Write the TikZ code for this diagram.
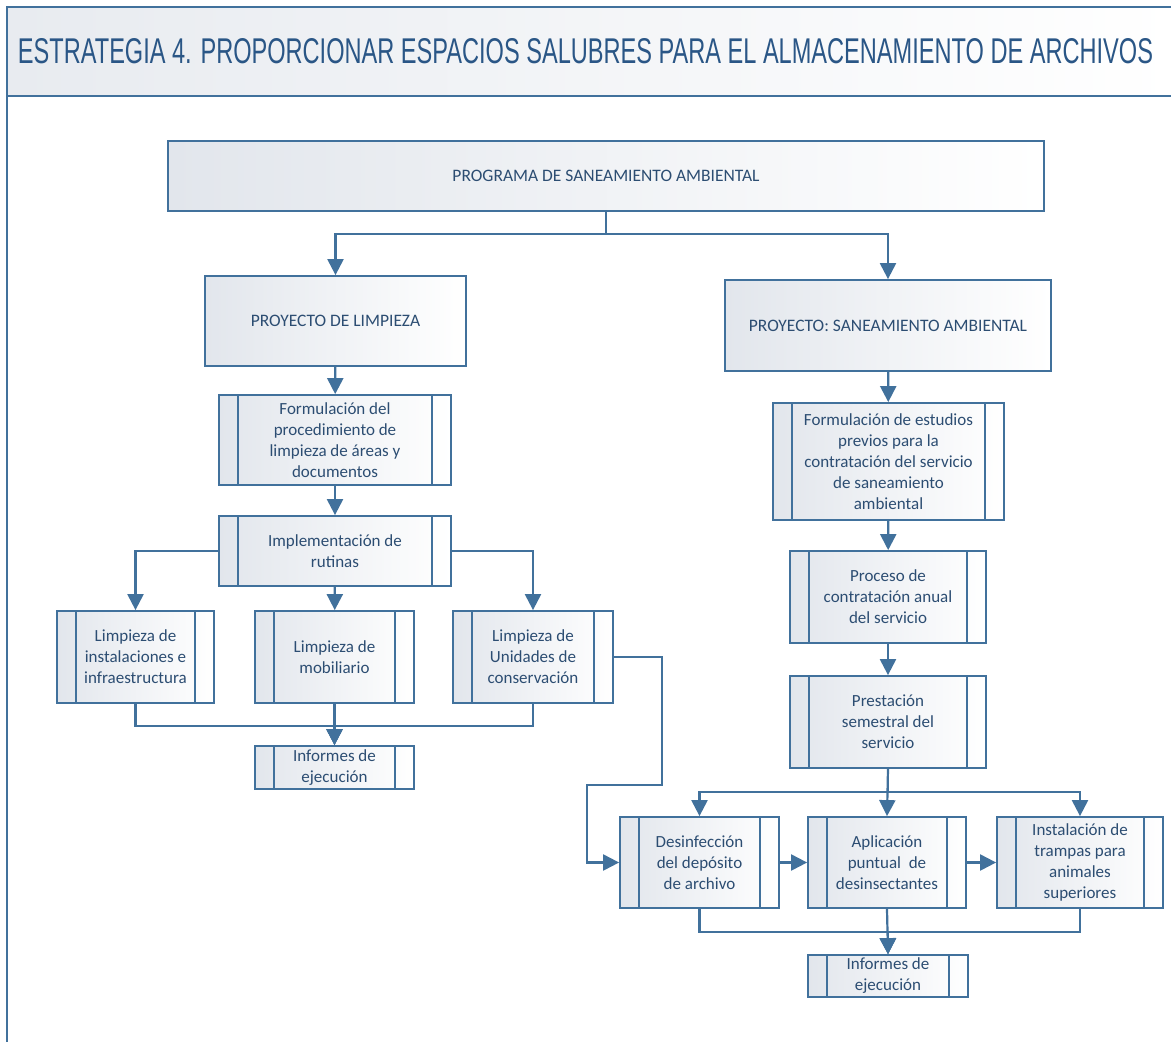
\documentclass[tikz,border=0pt]{standalone}
\usepackage{fontspec}
\setmainfont{Carlito}
\newfontfamily\titlefont{Liberation Sans}
\usepackage{graphicx}
\usetikzlibrary{arrows.meta}
\definecolor{lineblue}{HTML}{41719C}
\definecolor{textblue}{HTML}{2C4D72}
\definecolor{titleblue}{HTML}{2A5686}
\definecolor{shadegray}{HTML}{E2E6EC}

\begin{document}
\begin{tikzpicture}[x=1pt,y=-1pt,
  every node/.style={font=\fontsize{17}{21}\selectfont,text=textblue,align=center},
  box/.style={draw=lineblue,line width=1.8pt,left color=shadegray,right color=white,inner sep=1pt},
  subbox/.style={box,path picture={
    \draw[lineblue,line width=2.6pt] ([xshift=19pt]path picture bounding box.north west) -- ([xshift=19pt]path picture bounding box.south west);
    \draw[lineblue,line width=2.6pt] ([xshift=-19pt]path picture bounding box.north east) -- ([xshift=-19pt]path picture bounding box.south east);}},
  link/.style={draw=lineblue,line width=2.2pt},
  arr/.style={link,-{Triangle[length=16pt,width=16pt]}}]
  \useasboundingbox (0,0) rectangle (1171,1042);
  \fill[white] (0,0) rectangle (1171,1042);
  \shade[left color=shadegray!80,right color=white] (7,7) rectangle (1180,96);
  \draw[link] (1180,7) -- (7,7) -- (7,1050);
  \draw[link] (7,96) -- (1180,96);
  \node[text=titleblue] (title) at (585.5,51) {\resizebox{1135pt}{25pt}{\titlefont\fontsize{36}{36}\selectfont ESTRATEGIA 4. PROPORCIONAR ESPACIOS SALUBRES PARA EL ALMACENAMIENTO DE ARCHIVOS}};

  \node[box,minimum width=876pt,minimum height=70pt,font=\fontsize{17.5}{21}\selectfont] (prog) at (606,176) {PROGRAMA DE SANEAMIENTO AMBIENTAL};
  \node[box,minimum width=261pt,minimum height=90pt,font=\fontsize{17.5}{21}\selectfont] (plimp) at (335.5,321) {PROYECTO DE LIMPIEZA};
  \node[box,minimum width=326pt,minimum height=91pt,font=\fontsize{17.5}{21}\selectfont] (psan) at (888,325.5) {PROYECTO: SANEAMIENTO AMBIENTAL};

  \node[subbox,minimum width=232pt,minimum height=90pt] (form) at (335,440) {Formulación del\\procedimiento de\\limpieza de áreas y\\documentos};
  \node[subbox,minimum width=232pt,minimum height=70pt] (impl) at (335,551) {Implementación de\\rutinas};
  \node[subbox,minimum width=157pt,minimum height=92pt] (linst) at (135.5,657) {Limpieza de\\instalaciones e\\infraestructura};
  \node[subbox,minimum width=159pt,minimum height=92pt] (lmob) at (334.5,657) {Limpieza de\\mobiliario};
  \node[subbox,minimum width=160pt,minimum height=92pt] (lund) at (533,657) {Limpieza de\\Unidades de\\conservación};
  \node[subbox,minimum width=159pt,minimum height=43pt,inner sep=0pt] (infa) at (334.5,767.5) {Informes de\\ejecución};

  \node[subbox,minimum width=231pt,minimum height=117pt] (estud) at (888.5,461.5) {Formulación de estudios\\previos para la\\contratación del servicio\\de saneamiento\\ambiental};
  \node[subbox,minimum width=196pt,minimum height=92pt] (contr) at (888,597) {Proceso de\\contratación anual\\del servicio};
  \node[subbox,minimum width=196pt,minimum height=92pt] (prest) at (888,722) {Prestación\\semestral del\\servicio};
  \node[subbox,minimum width=159pt,minimum height=91pt] (desin) at (699.5,862.5) {Desinfección\\del depósito\\de archivo};
  \node[subbox,minimum width=158pt,minimum height=91pt] (aplic) at (887,862.5) {Aplicación\\puntual~ de\\desinsectantes};
  \node[subbox,minimum width=166pt,minimum height=91pt] (tramp) at (1080,862.5) {Instalación de\\trampas para\\animales\\superiores};
  \node[subbox,minimum width=160pt,minimum height=42pt,inner sep=0pt] (infb) at (888,976) {Informes de\\ejecución};

  \draw[arr] (prog.south) -- ++(0,22) -| (plimp.north);
  \draw[arr] (prog.south) -- ++(0,22) -| (psan.north);
  \draw[arr] (plimp) -- (form);
  \draw[arr] (form) -- (impl);
  \draw[arr] (impl.west) -| (linst.north);
  \draw[arr] (impl.east) -| (lund.north);
  \draw[arr] (impl) -- (lmob);
  \draw[arr] (linst.south) -- ++(0,22) -| (infa.north);
  \draw[arr] (lund.south) -- ++(0,22) -| (infa.north);
  \draw[arr] (lmob) -- (infa);
  \draw[arr] (lund.east) -- ++(48,0) -- ++(0,128) -- ++(-75,0) |- (desin.west);

  \draw[arr] (psan) -- (estud);
  \draw[arr] (estud) -- (contr);
  \draw[arr] (contr) -- (prest);
  \draw[arr] (prest.south) -- ++(0,23) -| (desin.north);
  \draw[arr] (prest.south) -- ++(0,23) -| (tramp.north);
  \draw[arr] (prest.south) -- (aplic.north);
  \draw[arr] (desin) -- (aplic);
  \draw[arr] (aplic) -- (tramp);
  \draw[arr] (desin.south) -- ++(0,23) -| (infb.north);
  \draw[arr] (tramp.south) -- ++(0,23) -| (infb.north);
  \draw[arr] (aplic.south) -- (infb.north);
\end{tikzpicture}
\end{document}
